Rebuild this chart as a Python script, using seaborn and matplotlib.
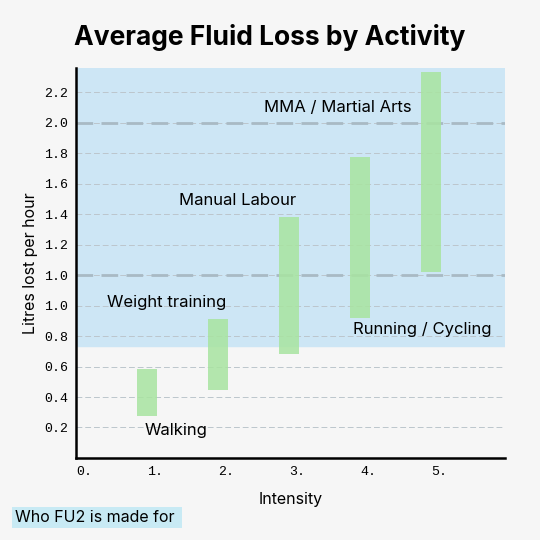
import numpy as np
import pandas as pd
import seaborn as sns
from matplotlib import pyplot as plt

# tick labels as printed on the reference (evenly spaced positions 1..12)
tick_labels = ['0.2', '0.4', '0.6', '0.8', '1.0', '1.0', '1.2', '1.4', '1.6', '1.8', '2.0', '2.2']
x_labels = ['0.', '1.', '2.', '3.', '4.', '5.']

activities = ['Walking', 'Weight training', 'Manual Labour', 'Running / Cycling', 'MMA / Martial Arts']
intensity = [1, 2, 3, 4, 5]
low = [1.37, 2.22, 3.40, 4.59, 6.10]
high = [2.91, 4.56, 7.91, 9.88, 12.68]

df = pd.DataFrame({'activity': activities, 'intensity': intensity, 'low': low, 'high': high})

sns.set_style('white')
plt.rcParams['font.family'] = ['Inter', 'DejaVu Sans']
plt.rcParams['text.color'] = 'black'
plt.rcParams['axes.labelcolor'] = 'black'
plt.rcParams['xtick.color'] = 'black'
plt.rcParams['ytick.color'] = 'black'

fig = plt.figure(figsize=(5.4, 5.4), dpi=100, facecolor='#f6f6f6')
ax = fig.add_axes([0.141, 0.152, 0.794, 0.722])
ax.set_facecolor('#f6f6f6')

ax.axhspan(3.67, 13.2, color='#cde6f5', zorder=0)
for p in range(1, 13):
    ax.axhline(p, color='#bcc6cc', lw=0.7, ls=(0, (6, 3)), zorder=1)
for p in [6, 11]:
    ax.axhline(p, color='#a9bac4', lw=2, ls=(0, (6, 3)), zorder=1)

ax.bar(df['intensity'], df['high'] - df['low'], bottom=df['low'], width=0.28,
       color='#a8e4a0', alpha=0.85, edgecolor='none', linewidth=0, zorder=2)

ax.set_xlim(0, 6.04)
ax.set_ylim(0, 12.8)
ax.set_xticks(range(6))
ax.set_xticklabels(x_labels, family='Liberation Mono', fontsize=9.5, ha='left')
ax.set_yticks(range(1, 13))
ax.set_yticklabels(tick_labels, family='Liberation Mono', fontsize=9.5)
ax.tick_params(length=0, pad=6)
for s in ['top', 'right']:
    ax.spines[s].set_visible(False)
for s in ['left', 'bottom']:
    ax.spines[s].set_color('black')
    ax.spines[s].set_linewidth(1.8)

ax.set_xlabel('Intensity', fontsize=11.5, labelpad=10)
ax.set_ylabel('Litres lost per hour', fontsize=11.5)

text_pos = [(0.97, 0.9), (0.44, 5.1), (1.45, 8.45), (3.9, 4.2), (2.65, 11.5)]
for name, (tx, ty) in zip(activities, text_pos):
    ax.text(tx, ty, name, fontsize=12, va='center', ha='left', zorder=3)

fig.text(0.5, 0.93, 'Average Fluid Loss by Activity', ha='center', va='center',
         fontsize=19, fontweight='bold')
fig.text(0.028, 0.042, 'Who FU2 is made for ', fontsize=11.5, va='center',
         bbox=dict(boxstyle='square,pad=0.2', fc='#c8eaf4', ec='none'))

fig.savefig('out.png', dpi=100, facecolor=fig.get_facecolor())
